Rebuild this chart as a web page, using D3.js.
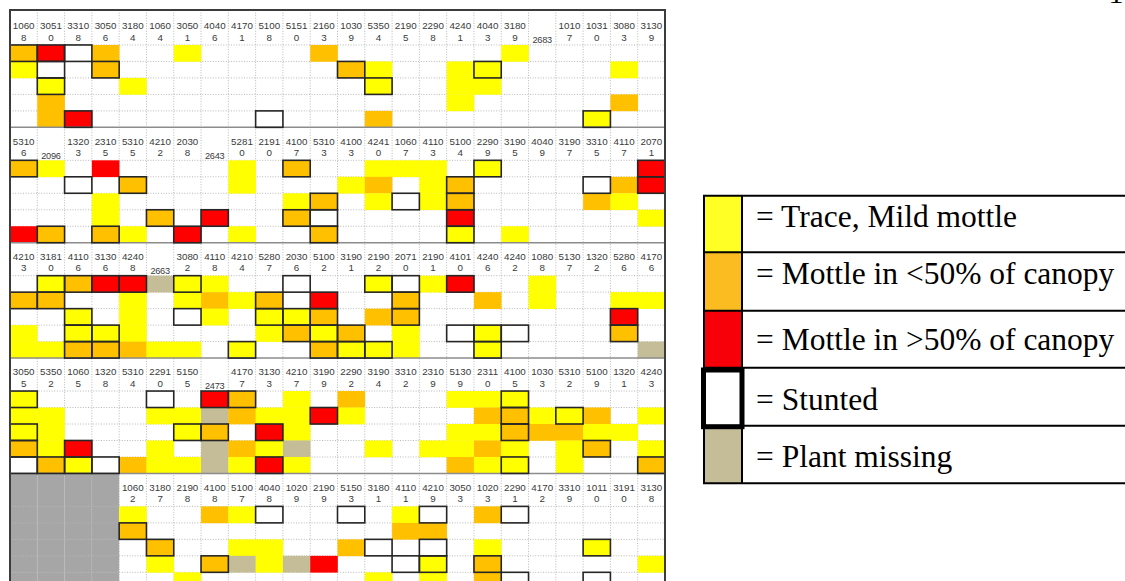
<!DOCTYPE html>
<html>
<head>
<meta charset="utf-8">
<script src="https://cdn.jsdelivr.net/npm/d3@7"></script>
<style>
  body { margin: 0; background: #fff; }
  svg { display: block; }
</style>
</head>
<body>
<div id="chart"></div>
<script>
// plot labels: "entry/rep", or a lone plot number
const block1Labels = ["1060/8","3051/0","3310/8","3050/6","3180/4","1060/4","3050/1","4040/6","4170/1","5100/8","5151/0","2160/3",
                      "1030/9","5350/4","2190/5","2290/8","4240/1","4040/3","3180/9","2683","1010/7","1031/0","3080/3","3130/9"];
const block2Labels = ["5310/6","2096","1320/3","2310/5","5310/5","4210/2","2030/8","2643","5281/0","2191/0","4100/7","5310/3",
                      "4100/3","4241/0","1060/7","4110/3","5100/4","2290/9","3190/5","4040/9","3190/7","3310/5","4110/7","2070/1"];
const block3Labels = ["4210/3","3181/0","4110/6","3130/6","4240/8","2663","3080/2","4110/8","4210/4","5280/7","2030/6","5100/2",
                      "3190/1","2190/2","2071/0","2190/1","4101/0","4240/6","4240/2","1080/8","5130/7","1320/2","5280/6","4170/6"];
const block4Labels = ["3050/5","5350/2","1060/5","1320/8","5310/4","2291/0","5150/5","2473","4170/7","3130/3","4210/7","3190/9",
                      "2290/2","3190/4","3310/2","2310/9","5130/9","2311/0","4100/5","1030/3","5310/2","5100/9","1320/1","4240/3"];
const block5Labels = [null,null,null,null,"1060/2","3180/7","2190/8","4100/8","5100/7","4040/8","1020/9","2190/9",
                      "5150/3","3180/1","4110/1","4210/9","3050/3","1020/3","2290/1","4170/2","3310/9","1011/0","3191/0","3130/8"];

// plant ratings, one string per plant row, one char per plot
// Y trace  O <50%  R >50%  G missing  . healthy  - no plot ; lower case = stunted
const block1Cells = ["orwO..Y....O......Y.....",
                     "Yw.o........oY..Yy....Y.",
                     ".y..Y........y..YY......",
                     ".O..............Y.....O.",
                     ".Or......w...O.......y.."];
const block2Cells = ["oY.R....Y.o..YYY.y.....r",
                     "..w.o...Y...YO.Yo....wOr",
                     "...Y......Yo.YwYo....OY.",
                     "...Y.o.r..ow....r......Y",
                     "Ro.oY.r.Y..o....y.Y....."];
const block3Cells = [".yorrGyY..w..ywYr..Y....",
                     "oo..Y.YOYo.r..o..O.Y..YY",
                     "..y.Y.wY.yyo.Oo.......r.",
                     "Y.yyY....Yoyo.Y.wyw...o.",
                     "YYooOYY.y..oyyY..y.....G"];
const block4Cells = ["y....w.ro.Y.O...YYy.....",
                     "YY...YYGOYYrY....OoYyO.Y",
                     "yY....yo.rY.....YYoOOYY.",
                     "oYr..Y.GOYG..Y.YYOY.Yo.Y",
                     "woywOYYGYrY.....OYy.Y..o"];
const block5Cells = ["----Y..OYw..w.Yw.Ow.....",
                     "----o.........OO........",
                     "----.o..YY..Ow.w.Y...y..",
                     "----.Y.oGYGR..wy.o.....Y",
                     "----..Y......Y.Y.Ow..w.."];

const legendLabels = ["= Trace, Mild mottle", "= Mottle in <50% of canopy", "= Mottle in >50% of canopy",
                      "= Stunted", "= Plant missing"];
const legendKeys = ["Y", "O", "R", "w", "G"];

const blocks = [
  { labels: block1Labels, cells: block1Cells },
  { labels: block2Labels, cells: block2Cells },
  { labels: block3Labels, cells: block3Cells },
  { labels: block4Labels, cells: block4Cells },
  { labels: block5Labels, cells: block5Cells }
];

const fills = { Y: "#ffff00", O: "#ffc000", R: "#ff0000", G: "#c4bd97", W: "#ffffff" };
const legendFills = { Y: "#ffff26", O: "#fbbc22", R: "#f70009", G: "#c4bd97", W: "#ffffff" };

const width = 1125, height = 581;
const svg = d3.select("#chart").append("svg")
    .attr("width", width)
    .attr("height", height);

const rowH = 16.48;
const x = d3.scaleBand().domain(d3.range(24)).range([10, 665]);
const y = d3.scaleBand().domain(d3.range(35)).range([12, 12 + 35 * rowH]);
const cellRow = (b, r) => b * 7 + 2 + r;

const grid = svg.append("g");

const cells = [];
blocks.forEach((blk, b) => {
  blk.cells.forEach((row, r) => {
    row.split("").forEach((c, col) => cells.push({ b, r, col, c }));
  });
});

// empty corner of block 5
grid.selectAll(".empty")
  .data(cells.filter(d => d.c === "-"))
  .enter().append("rect")
    .attr("x", d => x(d.col))
    .attr("y", d => y(cellRow(d.b, d.r)) - (d.r === 0 ? 2 * rowH : 0))
    .attr("width", x.bandwidth())
    .attr("height", d => y.bandwidth() + (d.r === 0 ? 2 * rowH : 0) + 0.5)
    .attr("fill", "#a6a6a6");

// dotted grid
grid.selectAll(".vline")
  .data(d3.range(1, 24))
  .enter().append("line")
    .attr("x1", d => x(d)).attr("x2", d => x(d))
    .attr("y1", 10).attr("y2", height)
    .attr("stroke", "#b8b8b8")
    .attr("stroke-dasharray", "1,1.6");

const hRows = [];
blocks.forEach((blk, b) => d3.range(5).forEach(r => hRows.push(cellRow(b, r))));
grid.selectAll(".hline")
  .data(hRows)
  .enter().append("line")
    .attr("x1", 10).attr("x2", 665)
    .attr("y1", d => y(d)).attr("y2", d => y(d))
    .attr("stroke", "#b8b8b8")
    .attr("stroke-dasharray", "1,1.6");

// coloured plants
const colored = cells.filter(d => d.c !== "-" && d.c !== "." && d.c !== "w");
grid.selectAll(".cell")
  .data(colored)
  .enter().append("rect")
    .attr("x", d => x(d.col))
    .attr("y", d => y(cellRow(d.b, d.r)))
    .attr("width", x.bandwidth() + 0.3)
    .attr("height", y.bandwidth() + 0.3)
    .attr("fill", d => fills[d.c.toUpperCase()]);

// block separators
grid.selectAll(".sep")
  .data(d3.range(4))
  .enter().append("line")
    .attr("x1", 10).attr("x2", 665)
    .attr("y1", d => y(d * 7 + 7)).attr("y2", d => y(d * 7 + 7))
    .attr("stroke", "#8c8c8c")
    .attr("stroke-width", 1.5);

// stunted plants
grid.selectAll(".stunt")
  .data(cells.filter(d => d.c !== "-" && d.c !== "." && d.c === d.c.toLowerCase()))
  .enter().append("rect")
    .attr("x", d => x(d.col))
    .attr("y", d => y(cellRow(d.b, d.r)))
    .attr("width", x.bandwidth())
    .attr("height", y.bandwidth())
    .attr("fill", "none")
    .attr("stroke", "#262626")
    .attr("stroke-width", 1.6);

// plot labels
const labels = [];
blocks.forEach((blk, b) => blk.labels.forEach((l, col) => { if (l) labels.push({ b, col, l }); }));

const lab = grid.selectAll(".lab")
  .data(labels)
  .enter().append("g")
    .attr("transform", d => `translate(${x(d.col) + x.bandwidth() / 2},${y(cellRow(d.b, 0))})`)
    .style("font-family", "'Liberation Sans', Arial, sans-serif")
    .attr("fill", "#3a3a3a")
    .attr("text-anchor", "middle");

lab.filter(d => d.l.includes("/")).append("text")
    .attr("y", -15.8)
    .style("font-size", "9.8px")
    .text(d => d.l.split("/")[0]);
lab.filter(d => d.l.includes("/")).append("text")
    .attr("y", -4.2)
    .style("font-size", "9.8px")
    .text(d => d.l.split("/")[1]);
lab.filter(d => !d.l.includes("/")).append("text")
    .attr("y", -1.8)
    .style("font-size", "9.2px")
    .style("letter-spacing", "-0.3px")
    .text(d => d.l);

// outer frame
grid.append("rect")
    .attr("x", 10).attr("y", 10)
    .attr("width", 655).attr("height", height)
    .attr("fill", "none")
    .attr("stroke", "#3c3c3c")
    .attr("stroke-width", 2);

// legend table
const legendRows = [195.7, 252.3, 310.7, 367.7, 425.7, 483.3];
const baselines = [31, 31.7, 39.5, 42.3, 41.5];
const legend = svg.append("g");

legend.selectAll(".sw")
  .data(legendKeys)
  .enter().append("rect")
    .attr("x", 704).attr("y", (d, i) => legendRows[i])
    .attr("width", 38)
    .attr("height", (d, i) => legendRows[i + 1] - legendRows[i])
    .attr("fill", d => legendFills[d.toUpperCase()]);

legend.selectAll(".hl")
  .data(legendRows)
  .enter().append("line")
    .attr("x1", 703).attr("x2", width)
    .attr("y1", d => d).attr("y2", d => d)
    .attr("stroke", "#000")
    .attr("stroke-width", 2);

legend.selectAll(".vl")
  .data([704, 742])
  .enter().append("line")
    .attr("x1", d => d).attr("x2", d => d)
    .attr("y1", legendRows[0]).attr("y2", legendRows[5])
    .attr("stroke", "#000")
    .attr("stroke-width", 2);

legendKeys.forEach((k, i) => {
  if (k === "w") {
    legend.append("rect")
      .attr("x", 703.5).attr("y", legendRows[i] + 2.3)
      .attr("width", 38.5).attr("height", legendRows[i + 1] - legendRows[i] - 1.3)
      .attr("fill", "#fff")
      .attr("stroke", "#000")
      .attr("stroke-width", 5);
  }
});

legend.selectAll(".lt")
  .data(legendLabels)
  .enter().append("text")
    .attr("x", 756)
    .attr("y", (d, i) => legendRows[i] + baselines[i])
    .style("font-family", "'Liberation Serif', 'Times New Roman', serif")
    .style("font-size", "31.5px")
    .attr("fill", "#000")
    .text(d => d);

// cropped page number
svg.append("text")
    .attr("x", 1116).attr("y", 2.5)
    .attr("text-anchor", "middle")
    .style("font-family", "'Liberation Serif', serif")
    .style("font-size", "30px")
    .text("1");
</script>
</body>
</html>
